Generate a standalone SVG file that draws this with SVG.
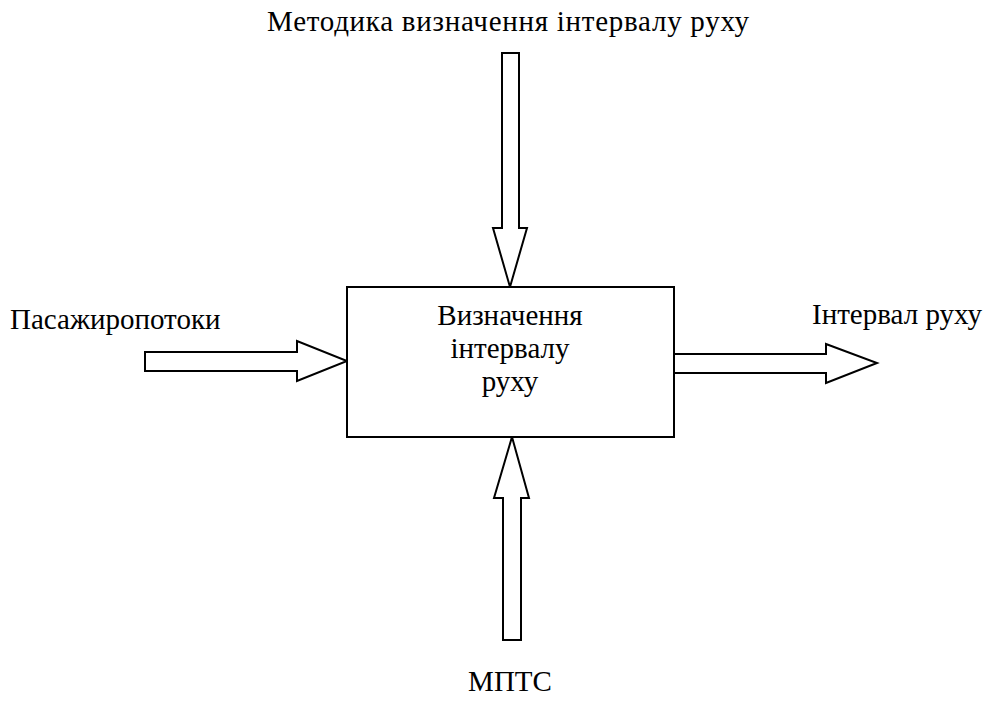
<svg xmlns="http://www.w3.org/2000/svg" width="989" height="717" viewBox="0 0 989 717">
<style>
.t{font-family:"Liberation Serif","Times New Roman",serif;font-size:29px;fill:#000}
.a{fill:#fff;stroke:#000;stroke-width:2;stroke-linejoin:miter}
.b{fill:#fff;stroke:#000;stroke-width:2}
</style>
<rect width="989" height="717" fill="#fff"/>
<g id="connectors">
<polygon id="arrow-top" class="a" points="502,53 519,53 519,228 527,228 510,287 493,228 502,228"/>
<polygon id="arrow-left" class="a" points="145,352 297,352 297,341 347,361 297,381 297,371 145,371"/>
<polygon id="arrow-right" class="a" points="674,354 826,354 826,344 877,363 826,383 826,373 674,373"/>
<polygon id="arrow-bottom" class="a" points="512,437 529,498 521,498 521,640 503,640 503,498 494,498"/>
</g>
<g id="node-main">
<rect class="b" x="347" y="287" width="327" height="150"/>
<text class="t" text-anchor="middle" x="510" y="325">Визначення</text>
<text class="t" text-anchor="middle" x="510" y="358">інтервалу</text>
<text class="t" text-anchor="middle" x="510" y="391">руху</text>
</g>
<g id="label-top"><text class="t" x="267" y="31" textLength="482" lengthAdjust="spacing">Методика визначення інтервалу руху</text></g>
<g id="label-left"><text class="t" x="10" y="329">Пасажиропотоки</text></g>
<g id="label-right"><text class="t" x="812" y="324">Інтервал руху</text></g>
<g id="label-bottom"><text class="t" text-anchor="middle" x="510" y="691">МПТС</text></g>
</svg>
